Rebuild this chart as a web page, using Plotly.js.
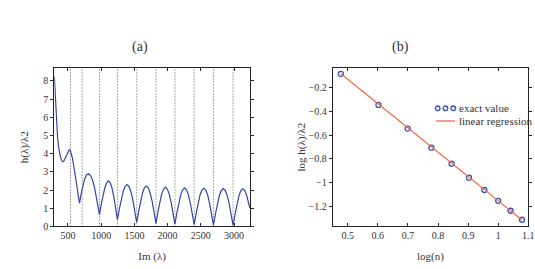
<!DOCTYPE html>
<html><head><meta charset="utf-8">
<script src="https://cdn.plot.ly/plotly-3.0.1.min.js"></script>
<style>html,body{margin:0;padding:0;background:#fff}#chart{width:535px;height:269px}</style>
</head><body><div id="chart"></div>
<script>
// Panel (a): h(λ)/λ2 versus Im(λ)
const imLambda = [295,305,315,325,335,345,360,375,390,410,425,440,460,480,500,520,535,550,565,580,600,620,640,655,665,675,
 700,725,750,780,810,840,870,900,930,955,975,
 1002,1029,1056,1083,1110,1137,1164,1191,1218,1245,
 1274,1303,1332,1361,1390,1419,1448,1477,1506,1535,
 1564,1593,1622,1651,1680,1709,1738,1767,1796,1825,
 1853,1882,1910,1939,1968,1996,2025,2053,2082,2110,
 2139,2168,2197,2226,2255,2284,2313,2342,2371,2400,
 2429,2458,2487,2516,2545,2574,2603,2632,2661,2690,
 2720,2749,2779,2808,2838,2867,2897,2926,2956,2985,
 3015,3044,3074,3103,3133,3162,3192,3221,3240];
const hRatio = [8.25,7.4,6.6,5.9,5.3,4.85,4.35,4.0,3.78,3.6,3.56,3.6,3.75,3.95,4.12,4.22,4.18,4.0,3.8,3.5,3.1,2.6,2.1,1.7,1.45,1.28,
 1.8,2.25,2.6,2.83,2.9,2.8,2.55,2.15,1.6,1.1,0.65,
 1.24,1.72,2.13,2.4,2.5,2.4,2.1,1.63,1.04,0.38,
 0.97,1.51,1.93,2.2,2.3,2.2,1.91,1.45,0.86,0.22,
 0.82,1.39,1.83,2.12,2.22,2.12,1.83,1.39,0.8,0.17,
 0.77,1.33,1.78,2.06,2.16,2.06,1.78,1.33,0.77,0.13,
 0.73,1.29,1.74,2.02,2.12,2.02,1.74,1.29,0.73,0.10,
 0.71,1.27,1.72,2.0,2.1,2.0,1.72,1.27,0.71,0.08,
 0.69,1.25,1.70,1.98,2.08,1.98,1.70,1.25,0.69,0.06,
 0.68,1.24,1.69,1.97,2.07,1.97,1.69,1.24,1.0];
const dottedX = [539,715,975,1245,1535,1825,2110,2400,2690,2985];
const aXTicks = [500,1000,1500,2000,2500,3000];
const aYTicks = [0,1,2,3,4,5,6,7,8];

// Panel (b): log h(λ)/λ2 versus log(n)
const logN = [0.477,0.602,0.699,0.778,0.845,0.903,0.954,1.0,1.041,1.079];
const logH = [-0.082,-0.344,-0.544,-0.705,-0.84,-0.958,-1.062,-1.153,-1.237,-1.313];
const regX = [0.477,1.079];
const regY = [-0.08,-1.315];
const bXTicks = [0.5,0.6,0.7,0.8,0.9,1,1.1];
const bYTicks = [-1.2,-1,-0.8,-0.6,-0.4,-0.2];
const legendLabels = ['exact value', 'linear regression'];

const yTop = 8.72;
const dx = [], dy = [];
dottedX.forEach(v => { dx.push(v, v, null); dy.push(0, yTop, null); });

const serif = 'Liberation Serif, Times New Roman, serif';
const blue = '#3a4cb0', orange = '#f06a4a';
const traces = [
  {x: dx, y: dy, xaxis: 'x', yaxis: 'y', mode: 'lines', showlegend: false,
   line: {color: '#555', width: 1, dash: '1px,2px'}, hoverinfo: 'skip'},
  {x: imLambda, y: hRatio, xaxis: 'x', yaxis: 'y', mode: 'lines', showlegend: false,
   line: {color: '#3444a4', width: 1.2}},
  {x: logN, y: logH, xaxis: 'x2', yaxis: 'y2', mode: 'markers', name: legendLabels[0], showlegend: false,
   marker: {symbol: 'circle-open', size: 5, color: blue, line: {width: 1.3}}},
  {x: regX, y: regY, xaxis: 'x2', yaxis: 'y2', mode: 'lines', name: legendLabels[1], showlegend: false,
   line: {color: orange, width: 1.3}}
];

const axBase = {showline: true, linecolor: '#222', linewidth: 1, mirror: 'ticks', showgrid: false, zeroline: false,
  ticklen: 3, tickcolor: '#222', tickfont: {family: serif, size: 10, color: '#333'}};

// hand-drawn legend (paper coordinates)
const px = v => v / 535, py = v => 1 - v / 269;
const shapes = [];
[437.7, 445.5, 453.3].forEach(cx => shapes.push({type: 'circle', xref: 'paper', yref: 'paper',
  x0: px(cx - 2.3), x1: px(cx + 2.3), y0: py(108.3 + 2.3), y1: py(108.3 - 2.3), line: {color: blue, width: 1.3}}));
shapes.push({type: 'line', xref: 'paper', yref: 'paper', x0: px(436), x1: px(455), y0: py(121), y1: py(121),
  line: {color: orange, width: 1.3}});

const layout = {
  width: 535, height: 269, margin: {l: 0, r: 0, t: 0, b: 0},
  paper_bgcolor: '#fff', plot_bgcolor: '#fff', showlegend: false,
  font: {family: serif, color: '#333'},
  xaxis: Object.assign({}, axBase, {domain: [0.1015, 0.4673], range: [295, 3240], tickvals: aXTicks, ticks: 'inside',
    title: {text: 'Im (λ)', font: {family: serif, size: 11, color: '#333'}, standoff: 11}}),
  yaxis: Object.assign({}, axBase, {domain: [0.158, 0.7483], range: [0, yTop], tickvals: aYTicks, ticks: 'outside',
    title: {text: 'h(λ)/λ2', font: {family: serif, size: 11, color: '#333'}, standoff: 12}}),
  xaxis2: Object.assign({}, axBase, {domain: [0.6219, 0.9875], range: [0.45, 1.1], tickvals: bXTicks, ticks: 'inside',
    anchor: 'y2', title: {text: 'log(n)', font: {family: serif, size: 11, color: '#333'}, standoff: 11}}),
  yaxis2: Object.assign({}, axBase, {domain: [0.158, 0.7483], range: [-1.37, -0.03], tickvals: bYTicks, ticks: 'outside',
    anchor: 'x2', title: {text: 'log h(λ)/λ2', font: {family: serif, size: 11, color: '#333'}, standoff: 0}}),
  shapes: shapes,
  annotations: [
    {text: '(a)', x: 0.243, y: py(46.7), xref: 'paper', yref: 'paper', yanchor: 'middle', showarrow: false, font: {family: serif, size: 14, color: '#333'}},
    {text: '(b)', x: 0.768, y: py(46.7), xref: 'paper', yref: 'paper', yanchor: 'middle', showarrow: false, font: {family: serif, size: 14, color: '#333'}},
    {text: legendLabels[0], x: px(457), y: py(108.3), xref: 'paper', yref: 'paper', xanchor: 'left', yanchor: 'middle', showarrow: false, font: {family: serif, size: 11, color: '#333'}},
    {text: legendLabels[1], x: px(457), y: py(121), xref: 'paper', yref: 'paper', xanchor: 'left', yanchor: 'middle', showarrow: false, font: {family: serif, size: 11, color: '#333'}}
  ]
};

Plotly.newPlot('chart', traces, layout, {displayModeBar: false, staticPlot: true});
</script></body></html>
